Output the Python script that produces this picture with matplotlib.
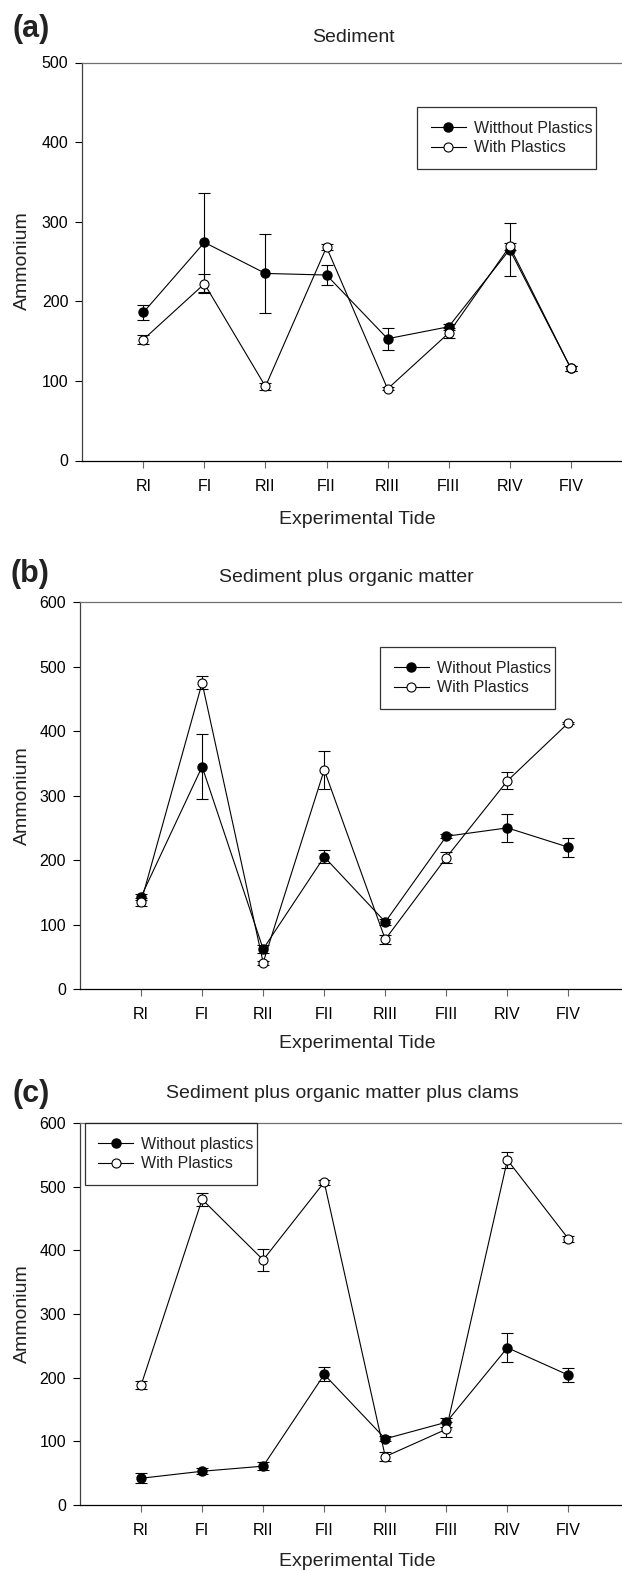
import matplotlib
matplotlib.use("Agg")
import matplotlib.pyplot as plt
from matplotlib.lines import Line2D
from matplotlib import font_manager

names = {f.name for f in font_manager.fontManager.ttflist}
if "Liberation Sans Narrow" in names:
    plt.rcParams["font.family"] = ["Liberation Sans Narrow", "DejaVu Sans"]
else:
    plt.rcParams["font.family"] = ["Liberation Sans", "DejaVu Sans"]

# data
tides = ["RI", "FI", "RII", "FII", "RIII", "FIII", "RIV", "FIV"]

a_without = [186, 274, 235, 233, 153, 168, 265, 116]
a_without_err = [9, 62, 50, 12, 14, 4, 33, 3]
a_with = [152, 222, 93, 268, 90, 160, 269, 116]
a_with_err = [6, 12, 4, 4, 2, 6, 4, 3]

b_without = [143, 345, 62, 205, 104, 237, 250, 220]
b_without_err = [5, 50, 6, 10, 4, 3, 22, 15]
b_with = [135, 475, 41, 340, 77, 204, 323, 413]
b_with_err = [6, 10, 3, 29, 7, 8, 13, 2]

c_without = [42, 53, 61, 205, 104, 130, 247, 204]
c_without_err = [8, 5, 6, 11, 4, 7, 23, 11]
c_with = [188, 480, 385, 507, 76, 119, 542, 418]
c_with_err = [6, 10, 17, 4, 7, 12, 12, 5]

W, H = 622, 1570
fig = plt.figure(figsize=(W / 100, H / 100), dpi=100)


def px_axes(left, right, top, bottom):
    return fig.add_axes([left / W, 1 - bottom / H, (right - left) / W, (bottom - top) / H])


def panel(ax, without, without_err, with_, with_err, ymax, labels, leg_box):
    x = range(1, len(tides) + 1)
    ax.errorbar(x, without, yerr=without_err, color="black", marker="o", ms=6.5,
                mfc="black", mec="black", lw=0.8, elinewidth=0.8, capsize=4.5,
                capthick=0.8, zorder=3)
    ax.errorbar(x, with_, yerr=with_err, color="black", marker="o", ms=6.5,
                mfc="white", mec="black", mew=0.8, lw=0.8, elinewidth=0.8,
                capsize=4.5, capthick=0.8, zorder=4)
    ax.set_xlim(0, 9)
    ax.set_ylim(0, ymax)
    ax.set_xticks(list(x))
    ax.set_xticklabels(tides)
    ax.set_yticks(range(0, ymax + 1, 100))
    ax.tick_params(axis="x", direction="out", length=5, width=0.8, color="#666666",
                   labelsize=11.5, pad=8)
    ax.tick_params(axis="y", direction="out", length=5, width=0.8, labelsize=11.5, pad=5)
    ax.spines["right"].set_visible(False)
    ax.spines["top"].set_color("#707070")
    ax.spines["left"].set_color("#404040")
    ax.spines["bottom"].set_color("black")
    for s in ax.spines.values():
        s.set_linewidth(0.9)

    handles = [
        Line2D([], [], color="black", lw=0.8, marker="o", ms=6.5, mfc="black", mec="black"),
        Line2D([], [], color="black", lw=0.8, marker="o", ms=6.5, mfc="white", mec="black",
               mew=0.8),
    ]
    l, t, w, h = leg_box
    leg = ax.legend(handles, labels, loc="upper left",
                    bbox_to_anchor=(l / W, 1 - (t + h) / H, w / W, h / H),
                    bbox_transform=fig.transFigure, mode="expand", fancybox=False,
                    edgecolor="black", fontsize=11.5, handlelength=2.2,
                    handletextpad=0.5, labelspacing=0.3, borderpad=0.85,
                    borderaxespad=0)
    leg.get_frame().set_linewidth(0.9)
    for t_ in leg.get_texts():
        t_.set_color("#222222")


ax_a = px_axes(82.3, 631.8, 62.5, 460.5)
panel(ax_a, a_without, a_without_err, a_with, a_with_err, 500,
      ["Witthout Plastics", "With Plastics"], (417, 107, 179, 62))

ax_b = px_axes(80, 629.5, 602.3, 989)
panel(ax_b, b_without, b_without_err, b_with, b_with_err, 600,
      ["Without Plastics", "With Plastics"], (380, 647, 175, 59))

ax_c = px_axes(80, 629.5, 1123, 1505)
panel(ax_c, c_without, c_without_err, c_with, c_with_err, 600,
      ["Without plastics", "With Plastics"], (84.5, 1123, 172.5, 59))

# titles, letters and axis labels
titles = ["Sediment", "Sediment plus organic matter", "Sediment plus organic matter plus clams"]
title_pos = [(353, 37), (346, 577), (342, 1094)]
letters = ["(a)", "(b)", "(c)"]
letter_pos = [(12, 29), (11, 574), (12, 1094)]
xlabel_y = [519, 1044, 1562]
ylabel_y = [261, 796, 1314]

for t, (tx, ty) in zip(titles, title_pos):
    fig.text(tx / W, 1 - ty / H, t, ha="center", va="center", fontsize=14, color="#222222")
for t, (tx, ty) in zip(letters, letter_pos):
    fig.text(tx / W, 1 - ty / H, t, ha="left", va="center", fontsize=22,
             fontweight="bold", color="#222222")
for y in xlabel_y:
    fig.text(357 / W, 1 - y / H, "Experimental Tide", ha="center", va="center",
             fontsize=14, color="#222222")
for y in ylabel_y:
    fig.text(22 / W, 1 - y / H, "Ammonium", ha="center", va="center", rotation=90,
             fontsize=14, color="#222222")

fig.savefig("out.png", dpi=100)
